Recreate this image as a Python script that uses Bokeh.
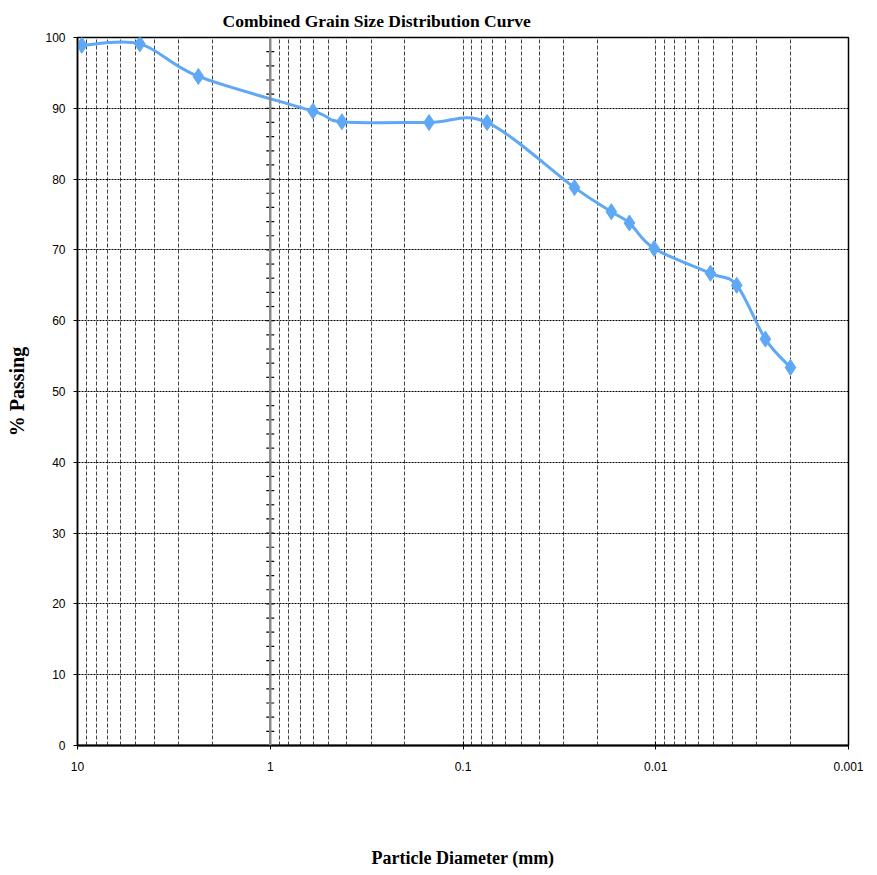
import numpy as np
from bokeh.plotting import figure
from bokeh.models import (Range1d, FixedTicker, CustomJSTickFormatter, Span,
                          ColumnDataSource)
from bokeh.embed import file_html
from bokeh.resources import INLINE

# ---------------- data ----------------
diameter_mm = [9.5, 4.75, 2.36, 0.6, 0.425, 0.15, 0.075,
               0.0264, 0.017, 0.0137, 0.0102, 0.0052, 0.0038, 0.0027, 0.0020]
percent_passing = [98.9, 99.1, 94.5, 89.6, 88.1, 88.0, 88.0,
                   78.8, 75.4, 73.8, 70.2, 66.7, 65.0, 57.4, 53.4]

x_major_ticks = [10, 1, 0.1, 0.01, 0.001]
x_minor_ticks = [m * d for d in [0.001, 0.01, 0.1, 1] for m in range(2, 10)]
y_ticks = list(range(0, 101, 10))
crossing_x = 1
crossing_ticks = list(range(0, 101, 2))

title_text = "Combined Grain Size Distribution Curve"
x_label = "Particle Diameter (mm)"
y_label = "% Passing"

# ---- smoothed (Excel-like) curve: cubic Bezier segments in log-x space ----
lx = np.log10(np.array(diameter_mm, dtype=float))
yy = np.array(percent_passing, dtype=float)
n = len(lx)
seg = dict(x0=[], y0=[], x1=[], y1=[], cx0=[], cy0=[], cx1=[], cy1=[])
for i in range(n - 1):
    ip = max(i - 1, 0)
    inx = min(i + 2, n - 1)
    c0x = lx[i] + (lx[i + 1] - lx[ip]) / 6.0
    c0y = yy[i] + (yy[i + 1] - yy[ip]) / 6.0
    c1x = lx[i + 1] - (lx[inx] - lx[i]) / 6.0
    c1y = yy[i + 1] - (yy[inx] - yy[i]) / 6.0
    seg["x0"].append(10 ** lx[i]); seg["y0"].append(yy[i])
    seg["x1"].append(10 ** lx[i + 1]); seg["y1"].append(yy[i + 1])
    seg["cx0"].append(10 ** c0x); seg["cy0"].append(c0y)
    seg["cx1"].append(10 ** c1x); seg["cy1"].append(c1y)

# ---------------- figure ----------------
p = figure(width=870, height=870, x_axis_type="log",
           x_range=Range1d(10, 0.001), y_range=Range1d(0, 100),
           output_backend="svg", toolbar_location=None,
           min_border_left=77, min_border_right=22,
           min_border_top=37, min_border_bottom=124)
p.background_fill_color = "white"
p.border_fill_color = "white"
p.outline_line_color = "black"
p.outline_line_width = 1.5

p.title.text = title_text
p.title.text_font = "Liberation Serif"
p.title.text_font_style = "bold"
p.title.text_font_size = "17.5px"
p.title.text_color = "black"
p.title.align = "left"
p.title.offset = 145
p.title.standoff = 13

tick_font = "Liberation Sans Narrow, Liberation Sans, sans-serif"

xa = p.xaxis[0]
xa.ticker = FixedTicker(ticks=x_major_ticks, minor_ticks=x_minor_ticks)
xa.formatter = CustomJSTickFormatter(code="return tick.toString();")
xa.axis_line_color = "black"
xa.axis_line_width = 2
xa.major_tick_line_color = "black"
xa.major_tick_in = 4
xa.major_tick_out = 4
xa.minor_tick_line_color = None
xa.major_label_standoff = 12
xa.major_label_text_font = tick_font
xa.major_label_text_font_size = "12px"
xa.major_label_text_color = "black"
xa.axis_label = x_label
xa.axis_label_text_font = "Liberation Serif"
xa.axis_label_text_font_style = "bold"
xa.axis_label_text_font_size = "18px"
xa.axis_label_text_color = "black"
xa.axis_label_standoff = 74

ya = p.yaxis[0]
ya.ticker = FixedTicker(ticks=y_ticks, minor_ticks=[])
ya.axis_line_color = "black"
ya.axis_line_width = 1.5
ya.major_tick_line_color = "black"
ya.major_tick_in = 0
ya.major_tick_out = 4
ya.minor_tick_line_color = None
ya.major_label_standoff = 8
ya.major_label_text_font = tick_font
ya.major_label_text_font_size = "12px"
ya.major_label_text_color = "black"
ya.axis_label = y_label
ya.axis_label_text_font = "Liberation Serif"
ya.axis_label_text_font_style = "bold"
ya.axis_label_text_font_size = "20px"
ya.axis_label_text_color = "black"
ya.axis_label_standoff = 14

# grids
p.xgrid.grid_line_color = "#444444"
p.xgrid.grid_line_dash = "4 2"
p.xgrid.grid_line_width = 1
p.xgrid.minor_grid_line_color = "#444444"
p.xgrid.minor_grid_line_dash = "4 2"
p.xgrid.minor_grid_line_width = 1
p.ygrid.grid_line_color = "black"
p.ygrid.grid_line_dash = "2 1"
p.ygrid.grid_line_width = 1
p.ygrid.minor_grid_line_color = None

# value axis crossing at 1 mm
p.add_layout(Span(location=crossing_x, dimension="height",
                  line_color="#8a8a8a", line_width=2.5))
p.dash(x=[crossing_x] * len(crossing_ticks), y=crossing_ticks, size=8,
       line_color="black", line_width=1.2)

# curve + markers
blue = "#5FA8F6"
p.bezier(x0="x0", y0="y0", x1="x1", y1="y1", cx0="cx0", cy0="cy0",
         cx1="cx1", cy1="cy1", source=ColumnDataSource(seg),
         line_color=blue, line_width=3)
p.scatter(x=diameter_mm, y=percent_passing, marker="diamond", size=16,
          fill_color=blue, line_color=blue)

open("out.html", "w").write(file_html(p, INLINE))
